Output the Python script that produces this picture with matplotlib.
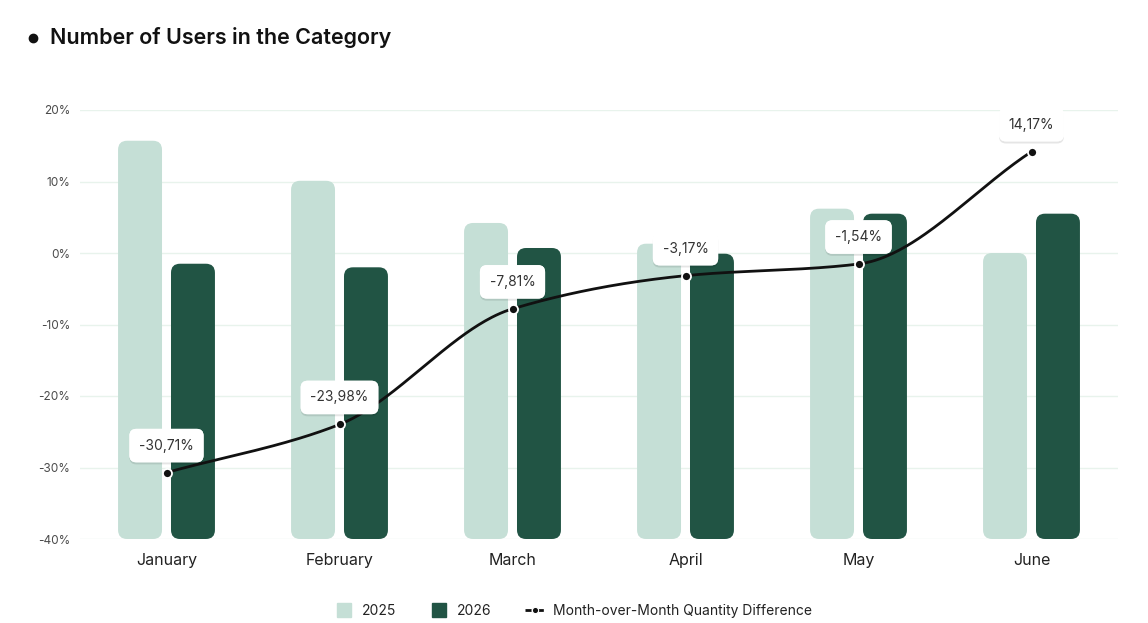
import numpy as np
import matplotlib
matplotlib.use("Agg")
import matplotlib.pyplot as plt
from matplotlib.patches import FancyBboxPatch
from matplotlib.lines import Line2D
import matplotlib.patheffects as pe

# ---- data ----
months = ["January", "February", "March", "April", "May", "June"]
users_2025 = [15.7, 10.1, 4.2, 1.3, 6.2, 0.0]
users_2026 = [-1.5, -2.0, 0.7, -0.1, 5.5, 5.5]
mom_diff = [-30.71, -23.98, -7.81, -3.17, -1.54, 14.17]
y_ticks = [-40, -30, -20, -10, 0, 10, 20]
baseline = -40

# ---- style ----
C_LIGHT = "#c5dfd6"
C_DARK = "#215444"
C_LINE = "#111111"
C_GRID = "#e8f3ec"
FONT = "Inter"
plt.rcParams["font.family"] = [FONT, "DejaVu Sans"]

W, H = 1148, 623
fig = plt.figure(figsize=(W / 100, H / 100), dpi=100)
ax_l, ax_r, ax_t, ax_b = 80, 1118, 110, 539
ax = fig.add_axes([ax_l / W, 1 - ax_b / H, (ax_r - ax_l) / W, (ax_b - ax_t) / H])

x = np.arange(len(months))
bw = 0.254
off = 0.153
ax.set_xlim(-0.5, len(months) - 0.5)
ax.set_ylim(y_ticks[0], y_ticks[-1])

px_x = (ax_r - ax_l) / (len(months))
px_y = (ax_b - ax_t) / (y_ticks[-1] - y_ticks[0])
aspect = px_x / px_y
r = 9.0 / px_x


def rounded_bars(xpos, vals, color):
    bars = ax.bar(xpos, np.array(vals) - baseline, bw, bottom=baseline, color=color)
    for b in bars:
        p = FancyBboxPatch((b.get_x(), b.get_y()), b.get_width(), b.get_height(),
                           boxstyle=f"round,pad=0,rounding_size={r}",
                           mutation_aspect=aspect, fc=color, ec="none", zorder=2)
        ax.add_patch(p)
        b.set_visible(False)


rounded_bars(x - off, users_2025, C_LIGHT)
rounded_bars(x + off, users_2026, C_DARK)


# smooth monotone cubic through the data points
def pchip(xk, yk, xs):
    xk = np.asarray(xk, float); yk = np.asarray(yk, float)
    h = np.diff(xk); d = np.diff(yk) / h
    m = np.zeros_like(yk)
    for k in range(1, len(yk) - 1):
        if d[k - 1] * d[k] > 0:
            w1 = 2 * h[k] + h[k - 1]; w2 = h[k] + 2 * h[k - 1]
            m[k] = (w1 + w2) / (w1 / d[k - 1] + w2 / d[k])
    m[0] = d[0]; m[-1] = d[-1]
    out = np.empty_like(xs)
    for i, xv in enumerate(xs):
        k = min(np.searchsorted(xk, xv, side="right") - 1, len(xk) - 2)
        t = (xv - xk[k]) / h[k]
        h00 = 2 * t**3 - 3 * t**2 + 1; h10 = t**3 - 2 * t**2 + t
        h01 = -2 * t**3 + 3 * t**2; h11 = t**3 - t**2
        out[i] = h00 * yk[k] + h10 * h[k] * m[k] + h01 * yk[k + 1] + h11 * h[k] * m[k + 1]
    return out


xs = np.linspace(x[0], x[-1], 400)
ax.plot(xs, pchip(x, mom_diff, xs), color=C_LINE, lw=2.0, zorder=3, solid_capstyle="round")
ax.plot(x, mom_diff, "o", ms=6.5, mfc=C_LINE, mec="white", mew=1.3, zorder=4)

for xi, v in zip(x, mom_diff):
    lbl = f"{v:.2f}".replace(".", ",") + "%"
    t = ax.annotate(lbl, (xi, v), xytext=(0, 27), textcoords="offset pixels",
                    ha="center", va="center", fontsize=10, color="#333333", zorder=6,
                    annotation_clip=False,
                    bbox=dict(boxstyle="round,pad=0.7,rounding_size=0.5", fc="white", ec="none"))
    t.get_bbox_patch().set_path_effects([
        pe.withSimplePatchShadow(offset=(0, -1.5), shadow_rgbFace="black", alpha=0.10),
        pe.Normal()])

# axes styling
for s in ax.spines.values():
    s.set_visible(False)
ax.set_yticks(y_ticks)
ax.set_yticklabels([f"{t}%" for t in y_ticks], fontsize=8.5, color="#4a4a4a")
ax.set_xticks(x)
ax.set_xticklabels(months, fontsize=11.5, color="#222222")
ax.tick_params(axis="both", length=0)
ax.tick_params(axis="y", pad=7)
ax.tick_params(axis="x", pad=10)
ax.set_axisbelow(True)
ax.yaxis.grid(True, color=C_GRID, lw=1)
ax.xaxis.grid(False)

# title
fig.add_artist(Line2D([33 / W], [1 - 38 / H], marker="o", ms=6, color="#111111",
                      transform=fig.transFigure))
fig.text(50 / W, 1 - 37 / H, "Number of Users in the Category", ha="left", va="center",
         fontsize=15.5, fontweight="semibold", color="#111111")

# legend
handles = [
    Line2D([], [], ls="none", marker="s", ms=10, mfc=C_LIGHT, mec=C_LIGHT),
    Line2D([], [], ls="none", marker="s", ms=10, mfc=C_DARK, mec=C_DARK),
    Line2D([], [], color=C_LINE, lw=2, ls=(0, (2.2, 2.2)), marker="o", ms=4.5,
           mfc=C_LINE, mec="white", mew=0.8),
]
fig.legend(handles, ["2025", "2026", "Month-over-Month Quantity Difference"],
           loc="center", bbox_to_anchor=(0.499, 1 - 611 / H), ncol=3, frameon=False,
           fontsize=10, handletextpad=0.6, columnspacing=2.4, handlelength=1.4,
           labelcolor="#222222")

fig.savefig("out.png", dpi=100, facecolor="white")
